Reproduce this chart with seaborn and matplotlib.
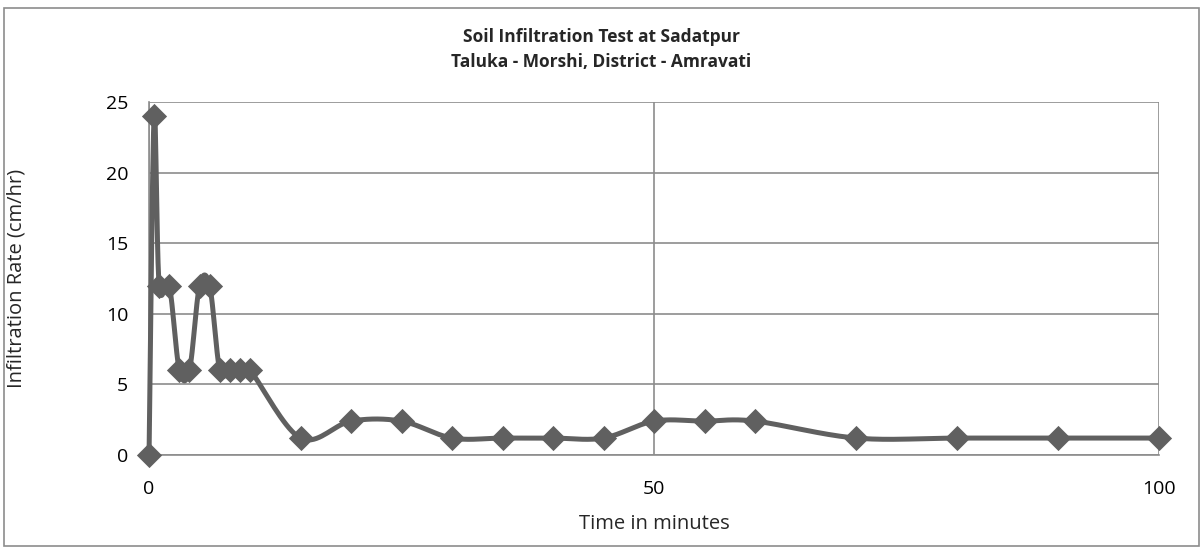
import numpy as np
import pandas as pd
import seaborn as sns
import matplotlib.pyplot as plt
from matplotlib.patches import Rectangle

# data
time_min = [0, 0.5, 1, 2, 3, 4, 5, 6, 7, 8, 9, 10, 15, 20, 25, 30, 35, 40, 45,
            50, 55, 60, 70, 80, 90, 100]
infil_rate = [0, 24, 12, 12, 6, 6, 12, 12, 6, 6, 6, 6, 1.2, 2.4, 2.4, 1.2, 1.2,
              1.2, 1.2, 2.4, 2.4, 2.4, 1.2, 1.2, 1.2, 1.2]
x_ticks = [0, 50, 100]
y_ticks = [0, 5, 10, 15, 20, 25]

title = "Soil Infiltration Test at Sadatpur\nTaluka - Morshi, District - Amravati"
xlabel = "Time in minutes"
ylabel = "Infiltration Rate (cm/hr)"

sns.set_style("white")
plt.rcParams["font.family"] = ["Open Sans", "DejaVu Sans"]

LINE = "#606060"
GRID = "#8c8c8c"

fig = plt.figure(figsize=(12.03, 5.49), dpi=100)
ax = fig.add_axes([0.1239, 0.1712, 0.8395, 0.643])

ax.set_xlim(0, 100)
ax.set_ylim(0, 25)


def smooth(xs, ys, sx, sy, n=20):
    # Excel-like smoothed line: cubic bezier with catmull-rom control points,
    # computed in (approximate) screen space
    P = np.column_stack([np.array(xs) * sx, np.array(ys) * sy])
    out = [P[0]]
    for i in range(len(P) - 1):
        p0 = P[i - 1] if i > 0 else P[i]
        p1 = P[i]
        p2 = P[i + 1]
        p3 = P[i + 2] if i + 2 < len(P) else P[i + 1]
        c1 = p1 + (p2 - p0) / 6
        c2 = p2 - (p3 - p1) / 6
        t = np.linspace(0, 1, n)[1:, None]
        seg = ((1 - t) ** 3) * p1 + 3 * ((1 - t) ** 2) * t * c1 \
            + 3 * (1 - t) * t ** 2 * c2 + t ** 3 * p2
        out.extend(seg)
    out = np.array(out)
    return out[:, 0] / sx, out[:, 1] / sy


sx = 1010 / 100
sy = 353 / 25
cx, cy = smooth(time_min, infil_rate, sx, sy)
pts = pd.DataFrame({"t": time_min, "r": infil_rate})

ax.plot(cx, cy, color=LINE, lw=3.6, solid_joinstyle="round",
        zorder=3, clip_on=False)
sns.scatterplot(data=pts, x="t", y="r", marker="D", s=165, color=LINE,
                edgecolor=LINE, linewidth=0, ax=ax, zorder=4, clip_on=False)

ax.set_xticks(x_ticks)
ax.set_yticks(y_ticks)
ax.grid(True, color=GRID, lw=1.2)
ax.set_axisbelow(True)
ax.tick_params(length=0, labelsize=14, colors="black")
ax.tick_params(axis="y", pad=15)
ax.tick_params(axis="x", pad=18)
for side in ["top", "right"]:
    ax.spines[side].set_visible(False)
for side in ["left", "bottom"]:
    ax.spines[side].set_color(GRID)
    ax.spines[side].set_linewidth(1.2)

ax.set_xlabel(xlabel, fontsize=14.5)
ax.set_ylabel(ylabel, fontsize=14.5)
ax.xaxis.set_label_coords(0.5, -0.168)
ax.yaxis.set_label_coords(-0.121, 0.5)

fig.text(0.5, 1 - 37 / 549, title.split("\n")[0], ha="center", va="center",
         fontsize=12.5, fontweight="bold")
fig.text(0.5, 1 - 62 / 549, title.split("\n")[1], ha="center", va="center",
         fontsize=12.5, fontweight="bold")

fig.patches.append(Rectangle((0.003, 0.006), 0.994, 0.979, transform=fig.transFigure,
                             fill=False, edgecolor=GRID, lw=1.2))

fig.savefig("out.png", dpi=100)
